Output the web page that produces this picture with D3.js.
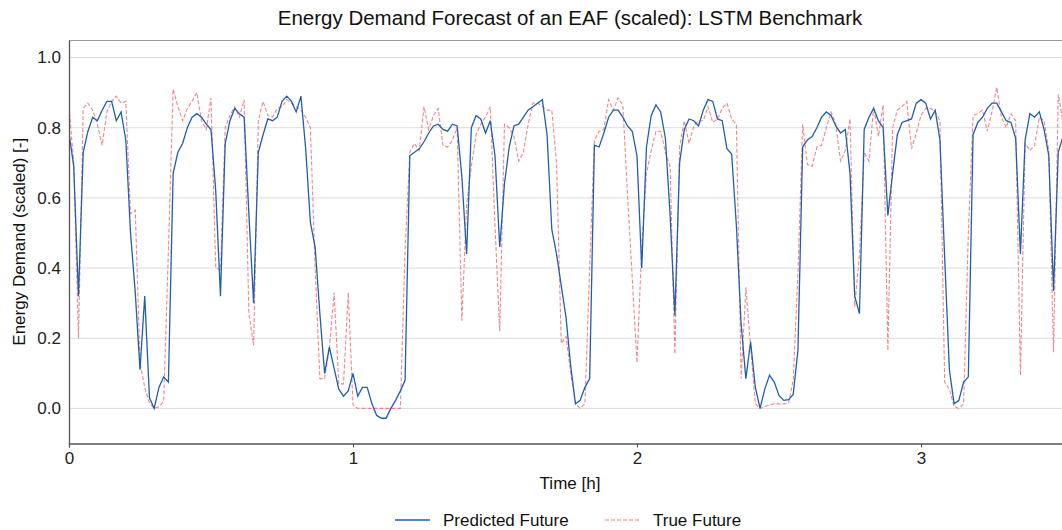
<!DOCTYPE html>
<html>
<head>
<meta charset="utf-8">
<script src="https://cdn.jsdelivr.net/npm/d3@7"></script>
<style>
  html, body { margin: 0; padding: 0; background: #fff; }
  svg { display: block; font-family: "Liberation Sans", Arial, sans-serif; }
</style>
</head>
<body>
<svg id="chart" width="1062" height="530"></svg>
<script>
// ---- data (1-minute samples, scaled energy demand) ----
const predicted = [
  0.785,0.69,0.32,0.73,0.79,0.83,0.82,0.85,0.875,0.875,
  0.82,0.845,0.765,0.50,0.33,0.11,0.32,0.03,0.0,0.06,
  0.09,0.075,0.67,0.73,0.755,0.80,0.83,0.84,0.83,0.81,
  0.795,0.62,0.32,0.755,0.82,0.855,0.84,0.83,0.555,0.30,
  0.73,0.78,0.825,0.82,0.83,0.875,0.89,0.875,0.845,0.89,
  0.74,0.53,0.46,0.27,0.10,0.175,0.115,0.055,0.035,0.05,
  0.10,0.035,0.06,0.06,0.013,-0.02,-0.028,-0.028,0.0,0.023,
  0.05,0.08,0.72,0.73,0.74,0.76,0.785,0.805,0.81,0.795,
  0.79,0.81,0.805,0.66,0.44,0.80,0.835,0.825,0.785,0.82,
  0.72,0.46,0.64,0.745,0.805,0.81,0.83,0.85,0.86,0.87,
  0.88,0.78,0.51,0.44,0.35,0.26,0.12,0.013,0.023,0.06,
  0.085,0.75,0.745,0.785,0.83,0.85,0.85,0.83,0.805,0.79,
  0.72,0.40,0.745,0.835,0.865,0.845,0.77,0.55,0.265,0.70,
  0.795,0.825,0.82,0.805,0.85,0.88,0.875,0.825,0.82,0.74,
  0.725,0.52,0.24,0.085,0.19,0.06,0.0,0.055,0.095,0.075,
  0.037,0.023,0.025,0.04,0.165,0.745,0.765,0.775,0.80,0.83,
  0.845,0.835,0.805,0.785,0.795,0.67,0.32,0.27,0.795,0.83,
  0.855,0.82,0.80,0.55,0.67,0.78,0.815,0.82,0.825,0.87,
  0.88,0.87,0.825,0.85,0.765,0.43,0.11,0.013,0.023,0.075,
  0.09,0.78,0.815,0.83,0.855,0.87,0.87,0.845,0.82,0.815,
  0.77,0.44,0.765,0.84,0.83,0.845,0.795,0.72,0.335,0.73,
  0.775
];
const trueFuture = [
  0.86,0.70,0.20,0.855,0.87,0.85,0.81,0.75,0.845,0.875,
  0.89,0.87,0.875,0.555,0.565,0.13,0.06,0.015,0.0,0.005,
  0.02,0.45,0.91,0.86,0.82,0.855,0.875,0.90,0.82,0.795,
  0.885,0.40,0.395,0.80,0.835,0.86,0.83,0.88,0.27,0.18,
  0.82,0.875,0.835,0.83,0.855,0.86,0.88,0.87,0.86,0.85,
  0.83,0.80,0.40,0.085,0.085,0.17,0.33,0.07,0.07,0.33,
  0.01,0.0,0.0,0.0,0.0,0.0,0.0,0.0,0.0,0.0,
  0.0,0.45,0.73,0.755,0.735,0.86,0.795,0.835,0.855,0.75,
  0.745,0.765,0.80,0.25,0.58,0.69,0.78,0.81,0.83,0.86,
  0.52,0.22,0.81,0.80,0.775,0.705,0.73,0.81,0.87,0.87,
  0.86,0.85,0.85,0.70,0.185,0.205,0.10,0.013,0.0,0.013,
  0.40,0.765,0.79,0.795,0.88,0.85,0.885,0.865,0.61,0.37,
  0.13,0.46,0.67,0.735,0.79,0.79,0.73,0.69,0.155,0.745,
  0.82,0.755,0.805,0.82,0.82,0.86,0.815,0.825,0.855,0.87,
  0.825,0.81,0.085,0.345,0.175,0.013,0.0,0.005,0.01,0.013,
  0.013,0.013,0.015,0.08,0.385,0.81,0.695,0.69,0.745,0.75,
  0.80,0.845,0.81,0.705,0.735,0.825,0.29,0.44,0.73,0.705,
  0.86,0.775,0.865,0.165,0.80,0.85,0.86,0.875,0.74,0.785,
  0.835,0.855,0.855,0.845,0.82,0.075,0.055,0.005,0.0,0.013,
  0.50,0.835,0.84,0.85,0.79,0.845,0.915,0.83,0.80,0.84,
  0.82,0.095,0.755,0.735,0.75,0.83,0.82,0.735,0.16,0.895,
  0.815
];
const xTicks = [0, 1, 2, 3];
const yTicks = [0.0, 0.2, 0.4, 0.6, 0.8, 1.0];
const seriesNames = ["Predicted Future", "True Future"];
const minutesPerHour = 60;

// ---- layout ----
const svg = d3.select("#chart");
const L = 69, R = 1063, T = 40, B = 443.5;

const x = d3.scaleLinear().domain([0, 3.5]).range([L, R]);
const y = d3.scaleLinear().domain([-0.1, 1.05]).range([B, T]);

svg.append("defs").append("clipPath").attr("id", "plotclip")
  .append("rect").attr("x", L).attr("y", T).attr("width", R - L).attr("height", B - T);

// grid
svg.append("g").selectAll("line").data(yTicks).join("line")
  .attr("x1", L).attr("x2", R)
  .attr("y1", d => y(d)).attr("y2", d => y(d))
  .attr("stroke", "#dcdcdc").attr("stroke-width", 1);

// top frame
svg.append("line").attr("x1", L).attr("x2", R).attr("y1", T + 0.5).attr("y2", T + 0.5)
  .attr("stroke", "#9a9a9a").attr("stroke-width", 1);

// lines
const lineGen = d3.line()
  .x((d, i) => x(i / minutesPerHour))
  .y(d => y(d));

const plot = svg.append("g").attr("clip-path", "url(#plotclip)");
plot.append("path").datum(trueFuture)
  .attr("d", lineGen)
  .attr("fill", "none")
  .attr("stroke", "#f07a7f")
  .attr("stroke-width", 1.1)
  .attr("stroke-dasharray", "4,2")
  .attr("opacity", 0.9);
plot.append("path").datum(predicted)
  .attr("d", lineGen)
  .attr("fill", "none")
  .attr("stroke", "#1f5fad")
  .attr("stroke-width", 1.3);

const FONT = "'Liberation Sans', Arial, sans-serif";

// axes
const xAxis = d3.axisBottom(x).tickValues(xTicks).tickFormat(d3.format("d"))
  .tickSize(4).tickPadding(4);
const gx = svg.append("g").attr("transform", `translate(0,${B})`).call(xAxis);
gx.select(".domain").attr("stroke", "#555").attr("stroke-width", 1.3);
gx.selectAll(".tick line").attr("stroke", "#555");
gx.selectAll("text").attr("font-size", 17).attr("fill", "#222").attr("font-family", FONT);

const yAxis = d3.axisLeft(y).tickValues(yTicks).tickFormat(d3.format(".1f"))
  .tickSize(0).tickPadding(8);
const gy = svg.append("g").attr("transform", `translate(${L},0)`).call(yAxis);
gy.select(".domain").attr("stroke", "#555").attr("stroke-width", 1.3);
gy.selectAll("text").attr("font-size", 17).attr("fill", "#222").attr("font-family", FONT);

// title & labels
svg.append("text").attr("x", (L + R) / 2 + 4).attr("y", 25)
  .attr("text-anchor", "middle").attr("font-size", 20.5).attr("fill", "#111")
  .text("Energy Demand Forecast of an EAF (scaled): LSTM Benchmark");

svg.append("text").attr("x", (L + R) / 2 + 4).attr("y", 489)
  .attr("text-anchor", "middle").attr("font-size", 17).attr("fill", "#111")
  .text("Time [h]");

svg.append("text")
  .attr("transform", `translate(25,${(T + B) / 2}) rotate(-90)`)
  .attr("text-anchor", "middle").attr("font-size", 17).attr("fill", "#111")
  .text("Energy Demand (scaled) [-]");

// legend
const lg = svg.append("g");
const legendItems = [
  { name: seriesNames[0], x: 395, color: "#1f5fad", dash: null, w: 1.3 },
  { name: seriesNames[1], x: 605, color: "#f07a7f", dash: "4,2", w: 1.1 }
];
legendItems.forEach(it => {
  lg.append("line").attr("x1", it.x).attr("x2", it.x + 35)
    .attr("y1", 520).attr("y2", 520)
    .attr("stroke", it.color).attr("stroke-width", it.w)
    .attr("stroke-dasharray", it.dash);
  lg.append("text").attr("x", it.x + 48).attr("y", 526)
    .attr("font-size", 17).attr("fill", "#111").text(it.name);
});
</script>
</body>
</html>
